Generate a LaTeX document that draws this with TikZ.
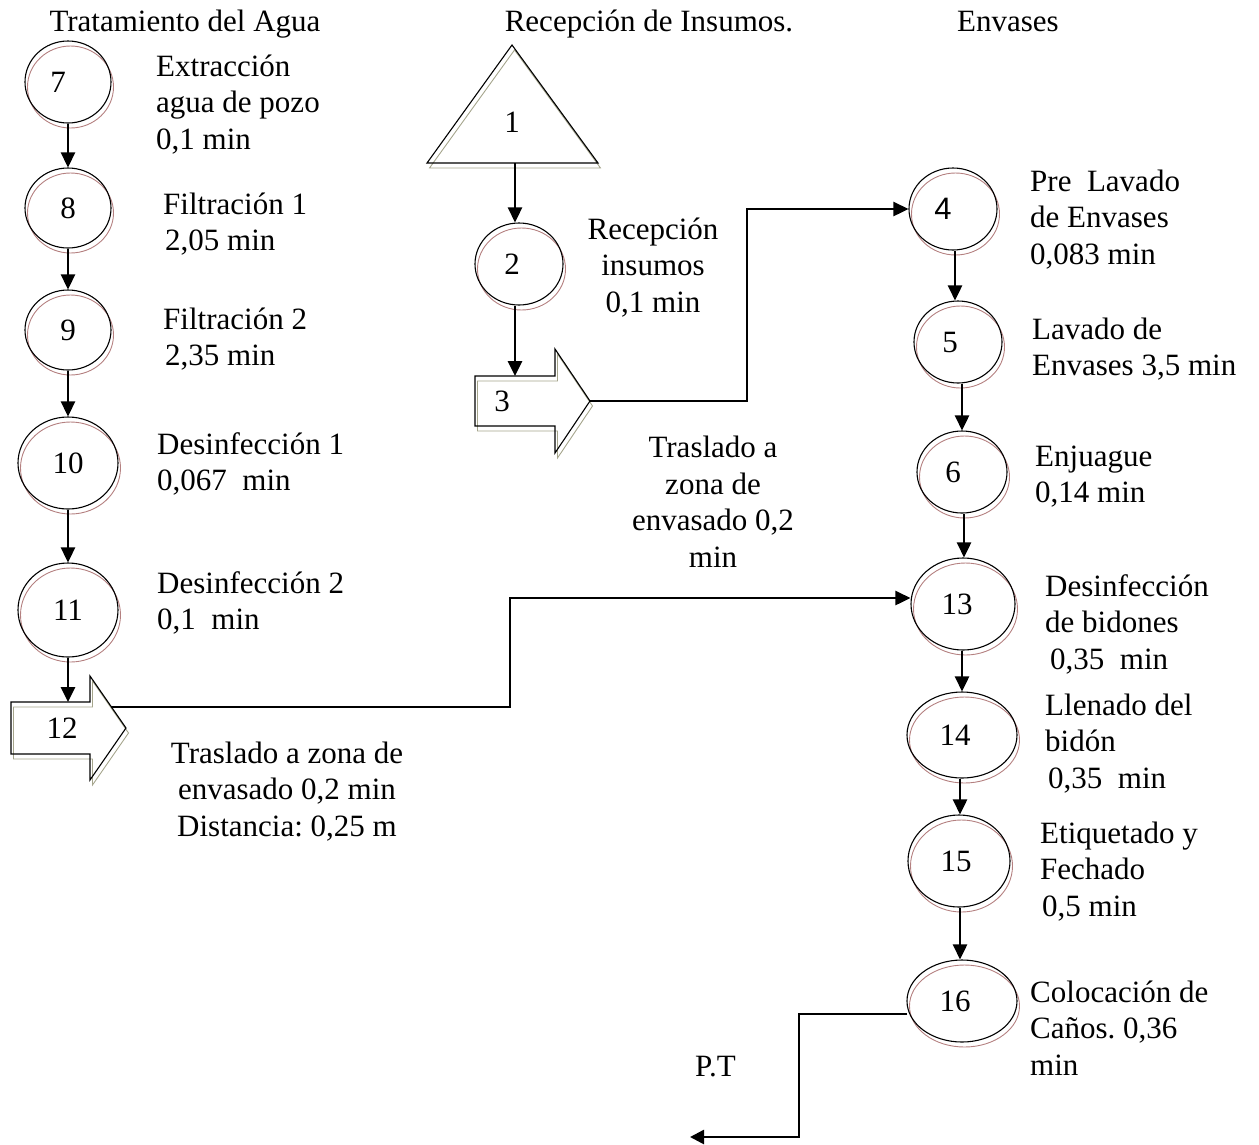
\documentclass[tikz,border=0pt]{standalone}
\usepackage{fontspec}
\setmainfont{Liberation Serif}
\newfontfamily\numsans{Liberation Sans}
\usetikzlibrary{arrows.meta,shapes.geometric,calc}
\definecolor{ringshade}{RGB}{180,128,128}
\definecolor{blockshade}{RGB}{165,165,140}
\frenchspacing
\begin{document}
\begin{tikzpicture}[x=1pt,y=-1pt,
  every node/.style={font=\fontsize{31}{36.5}\selectfont, inner sep=0pt},
  stn/.style={ellipse, draw, line width=1.1pt,
    preaction={draw=ringshade, line width=0.9pt,
      transform canvas={xshift=2.5pt,yshift=-5pt}}},
  conn/.style={line width=2.6pt, -{Triangle[length=15pt,width=14pt]}},
  outline/.style={line width=1.1pt, line join=miter},
  shade/.style={draw=blockshade, line width=0.9pt},
  txt/.style={anchor=base west, align=left},
  ctxt/.style={anchor=base, align=center},
]
\useasboundingbox (0,0) rectangle (1259,1144);

% column headings
\node[anchor=base] (h1) at (185,31) {Tratamiento del Agua};
\node[anchor=base] (h2) at (649,31) {Recepción de Insumos.};
\node[anchor=base] (h3) at (1008,31) {Envases};

% ---------------- water treatment column ----------------
\node[stn, minimum width=86pt, minimum height=82pt] (n7) at (68,82) {7\kern20pt};
\node[stn, minimum width=86pt, minimum height=80pt] (n8) at (68,208) {8};
\node[stn, minimum width=86pt, minimum height=80pt] (n9) at (68,330) {9};
\node[stn, minimum width=100pt, minimum height=92pt] (n10) at (68,463) {10};
\node[stn, minimum width=100pt, minimum height=94pt] (n11) at (68,610) {11};

% transport arrow 12
\begin{scope}[shift={(11,728)}]
  \draw[shade, shift={(2.5,5)}] (0,-26) -- (79,-26) -- (79,-52) -- (115,0)
      -- (79,52) -- (79,26) -- (0,26) -- cycle;
  \draw[outline] (0,-26) -- (79,-26) -- (79,-52) -- (115,0)
      -- (79,52) -- (79,26) -- (0,26) -- cycle;
  \node (n12) at (51,0) {12};
  \coordinate (a12in) at (57,-26);
  \coordinate (a12out) at (100,-21);
\end{scope}

\draw[conn] (n7.south) -- (n8.north);
\draw[conn] (n8.south) -- (n9.north);
\draw[conn] (n9.south) -- (n10.north);
\draw[conn] (n10.south) -- (n11.north);
\draw[conn] (n11.south) -- (a12in);

% the base anchor of a multi-line text lies on its last line
\node[txt] (t7) at (156,149) {Extracción\\agua de pozo\\0,1 min};
\node[txt] (t8) at (163,250.5) {Filtración 1\\\hspace*{2pt}2,05 min};
\node[txt] (t9) at (163,365.5) {Filtración 2\\\hspace*{2pt}2,35 min};
\node[txt] (t10) at (157,490.5) {Desinfección 1\\0,067\ \ min};
\node[txt] (t11) at (157,629.5) {Desinfección 2\\0,1\ \ min};
\node[ctxt] (t12) at (287,836) {Traslado a zona de\\envasado 0,2 min\\Distancia: 0,25 m};

% ---------------- reception column ----------------
\draw[shade, shift={(2.5,5)}] (427,163) -- (512,45) -- (598,163) -- cycle;
\draw[outline] (427,163) -- (512,45) -- (598,163) -- cycle;
\node (n1) at (512,122) {1};
\coordinate (t1b) at (515,163);

\node[stn, minimum width=88pt, minimum height=82pt] (n2) at (519,264) {2\kern14pt};

% transport arrow 3
\begin{scope}[shift={(475,401)}]
  \draw[shade, shift={(2.5,5)}] (0,-25) -- (80,-25) -- (80,-52) -- (115,0)
      -- (80,52) -- (80,25) -- (0,25) -- cycle;
  \draw[outline] (0,-25) -- (80,-25) -- (80,-52) -- (115,0)
      -- (80,52) -- (80,25) -- (0,25) -- cycle;
  \node (n3) at (27,0) {3};
  \coordinate (a3in) at (40,-25);
  \coordinate (a3out) at (115,0);
\end{scope}

\draw[conn] (t1b) -- (t1b |- n2.north);
\draw[conn] (t1b |- n2.south) -- (a3in);

\node[ctxt] (t2) at (653,312) {Recepción\\insumos\\0,1 min};
\node[ctxt] (t3) at (713,567) {Traslado a\\zona de\\envasado 0,2\\min};

% ---------------- containers column ----------------
\node[stn, minimum width=88pt, minimum height=82pt] (n4) at (953,209) {\numsans 4\kern20pt};
\node[stn, minimum width=88pt, minimum height=82pt] (n5) at (958,342) {5\kern16pt};
\node[stn, minimum width=90pt, minimum height=82pt] (n6) at (962,472) {6\kern18pt};
\node[stn, minimum width=104pt, minimum height=92pt] (n13) at (963,604) {13\kern12pt};
\node[stn, minimum width=110pt, minimum height=86pt] (n14) at (962,735) {14\kern14pt};
\node[stn, minimum width=102pt, minimum height=92pt] (n15) at (959,861) {15\kern6pt};
\node[stn, minimum width=110pt, minimum height=82pt] (n16) at (962,1001) {16\kern14pt};

\draw[conn] (n4.south -| 955,0) -- (n5.north -| 955,0);
\draw[conn] (n5.south -| 962,0) -- (n6.north -| 962,0);
\draw[conn] (n6.south -| 964,0) -- (n13.north -| 964,0);
\draw[conn] (n13.south -| 962,0) -- (n14.north -| 962,0);
\draw[conn] (n14.south -| 960,0) -- (n15.north -| 960,0);
\draw[conn] (n15.south -| 960,0) -- (n16.north -| 960,0);

\node[txt] (t4) at (1030,264) {Pre\ \ Lavado\\de Envases\\0,083 min};
\node[txt] (t5) at (1032,375.5) {Lavado de\\Envases 3,5 min};
\node[txt] (t6) at (1035,502.5) {Enjuague\\0,14 min};
\node[txt] (t13) at (1045,669) {Desinfección\\de bidones\\\hspace*{5pt}0,35\ \ min};
\node[txt] (t14) at (1045,788) {Llenado del\\bidón\\\hspace*{3pt}0,35\ \ min};
\node[txt] (t15) at (1040,916) {Etiquetado y\\Fechado\\\hspace*{2pt}0,5 min};
\node[txt] (t16) at (1030,1075) {Colocación de\\Caños. 0,36\\min};

% ---------------- transfers between columns ----------------
\coordinate (k3) at (747,0);
\draw[conn] (a3out) -- (a3out -| k3) |- (n4.west);

\coordinate (k12) at (510,0);
\coordinate (e13) at ($(n13.west)+(0,-6)$);
\draw[conn] (a12out) -- (a12out -| k12) |- (e13);

% finished product exit
\coordinate (s16) at ($(n16.west)+(1,13)$);
\coordinate (k16) at (799,1137);
\coordinate (ptend) at (690,1137);
\draw[line width=2.6pt, -{Triangle[length=14pt,width=14pt]}]
  (s16) -- (s16 -| k16) -- (k16) -- (ptend);
\node[anchor=base west] (pt) at (695,1076) {P.T};
\end{tikzpicture}
\end{document}
